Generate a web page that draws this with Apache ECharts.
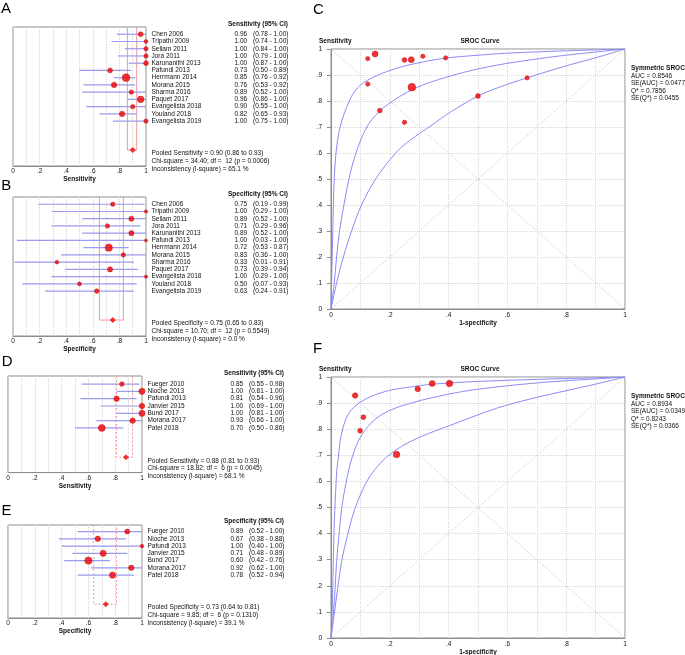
<!DOCTYPE html>
<html><head><meta charset="utf-8">
<script src="https://cdn.jsdelivr.net/npm/echarts@6/dist/echarts.min.js"></script>
<style>html,body{margin:0;padding:0;background:#fff}#c{width:685px;height:655px}</style>
</head><body><div id="c"></div>
<script>
const FONT = '"Liberation Sans", Arial, Helvetica, sans-serif';

// ---------- Panel A / B : studies ----------
const studiesAB = ['Chen 2006','Tripathi 2009','Sellam 2011','Jora 2011','Karunanithi 2013','Pafundi 2013','Herrmann 2014','Morana 2015','Sharma 2016','Paquet 2017','Evangelista 2018','Youland 2018','Evangelista 2019'];
const sensA   = [0.96,1.00,1.00,1.00,1.00,0.73,0.85,0.76,0.89,0.96,0.90,0.82,1.00];
const sensLoA = [0.78,0.74,0.84,0.79,0.87,0.50,0.76,0.53,0.52,0.86,0.55,0.65,0.75];
const sensHiA = [1.00,1.00,1.00,1.00,1.00,0.89,0.92,0.92,1.00,1.00,1.00,0.93,1.00];
const weightA = [4.5,3.5,4,4,4.5,4.5,7,5,4,6,4,5,4];
const pooledA = [0.90,0.86,0.93];
const statsA  = ['Pooled Sensitivity = 0.90 (0.86 to 0.93)','Chi-square = 34.40; df =  12 (p = 0.0006)','Inconsistency (I-square) = 65.1 %'];

const specB   = [0.75,1.00,0.89,0.71,0.89,1.00,0.72,0.83,0.33,0.73,1.00,0.50,0.63];
const specLoB = [0.19,0.29,0.52,0.29,0.52,0.03,0.53,0.36,0.01,0.39,0.29,0.07,0.24];
const specHiB = [0.99,1.00,1.00,0.96,1.00,1.00,0.87,1.00,0.91,0.94,1.00,0.93,0.91];
const weightB = [4,3,4.7,4,4.7,2.8,6.7,4,3.4,4.7,3,3.7,4.3];
const pooledB = [0.75,0.65,0.83];
const statsB  = ['Pooled Specificity = 0.75 (0.65 to 0.83)','Chi-square = 10.70; df =  12 (p = 0.5549)','Inconsistency (I-square) = 0.0 %'];

// ---------- Panel D / E ----------
const studiesDE = ['Fueger 2010','Nioche 2013','Pafundi 2013','Janvier 2015','Bund 2017','Morana 2017','Patel 2018'];
const sensD   = [0.85,1.00,0.81,1.00,1.00,0.93,0.70];
const sensLoD = [0.55,0.81,0.54,0.69,0.81,0.66,0.50];
const sensHiD = [0.98,1.00,0.96,1.00,1.00,1.00,0.86];
const weightD = [4.3,5.7,5,5,5.7,5,6.3];
const pooledD = [0.88,0.81,0.93];
const statsD  = ['Pooled Sensitivity = 0.88 (0.81 to 0.93)','Chi-square = 18.82; df =  6 (p = 0.0045)','Inconsistency (I-square) = 68.1 %'];

const specE   = [0.89,0.67,1.00,0.71,0.60,0.92,0.78];
const specLoE = [0.52,0.38,0.40,0.48,0.42,0.62,0.52];
const specHiE = [1.00,0.88,1.00,0.89,0.76,1.00,0.94];
const weightE = [4.7,5,3.4,5.7,6.7,5,5.7];
const pooledE = [0.73,0.64,0.81];
const statsE  = ['Pooled Specificity = 0.73 (0.64 to 0.81)','Chi-square = 9.85; df =  6 (p = 0.1310)','Inconsistency (I-square) = 39.1 %'];

// ---------- SROC C ----------
const srocC_fpr  = [0.125,0.15,0.25,0.273,0.3125,0.39,0.125,0.275,0.5,0.667,0.166,0.25];
const srocC_sens = [0.963,0.981,0.958,0.959,0.972,0.966,0.865,0.853,0.819,0.889,0.763,0.718];
const srocC_w    = [4,5.5,4.5,5.5,4,4,4,7,4.5,4,4.5,4];
const curveC_upper = [[0,0],[0.002,0.1],[0.004,0.2],[0.006,0.3],[0.008,0.4],[0.011,0.5],[0.017,0.6],[0.031,0.7],[0.062,0.8],[0.09,0.85],[0.125,0.88],[0.16,0.9],[0.22,0.925],[0.29,0.945],[0.39,0.965],[0.5,0.976],[0.6,0.984],[0.8,0.993],[1,1]];
const curveC_mid   = [[0,0],[0.011,0.1],[0.019,0.2],[0.029,0.3],[0.044,0.4],[0.061,0.5],[0.085,0.6],[0.122,0.7],[0.16,0.755],[0.21,0.8],[0.275,0.843],[0.338,0.872],[0.451,0.91],[0.565,0.938],[0.678,0.958],[0.79,0.975],[0.905,0.989],[1,1]];
const curveC_low   = [[0,0],[0.019,0.1],[0.042,0.2],[0.07,0.3],[0.104,0.4],[0.152,0.5],[0.22,0.6],[0.27,0.65],[0.34,0.705],[0.406,0.757],[0.5,0.819],[0.565,0.85],[0.667,0.889],[0.79,0.932],[0.905,0.968],[1,1]];
const statsC = ['AUC = 0.8546','SE(AUC) = 0.0477','Q* = 0.7856','SE(Q*) = 0.0455'];

// ---------- SROC F ----------
const srocF_fpr  = [0.082,0.11,0.099,0.223,0.295,0.344,0.403];
const srocF_sens = [0.929,0.846,0.794,0.703,0.954,0.975,0.975];
const srocF_w    = [5,4.5,4.5,6,5,5.5,6];
const curveF_upper = [[0,0],[0.004,0.1],[0.006,0.2],[0.008,0.3],[0.01,0.4],[0.014,0.517],[0.02,0.645],[0.025,0.693],[0.034,0.773],[0.05,0.837],[0.07,0.875],[0.095,0.9],[0.138,0.926],[0.2,0.949],[0.273,0.962],[0.341,0.972],[0.5,0.983],[0.7,0.991],[0.9,0.997],[1,1]];
const curveF_mid   = [[0,0],[0.008,0.092],[0.014,0.192],[0.019,0.292],[0.027,0.393],[0.036,0.494],[0.051,0.594],[0.072,0.693],[0.102,0.773],[0.149,0.837],[0.206,0.875],[0.273,0.9],[0.341,0.92],[0.451,0.945],[0.565,0.962],[0.678,0.975],[0.79,0.985],[0.905,0.993],[1,1]];
const curveF_low   = [[0,0],[0.011,0.092],[0.023,0.192],[0.036,0.292],[0.056,0.393],[0.081,0.494],[0.119,0.594],[0.149,0.645],[0.189,0.693],[0.24,0.734],[0.307,0.772],[0.406,0.815],[0.5,0.855],[0.565,0.881],[0.678,0.916],[0.79,0.945],[0.905,0.974],[1,1]];
const statsF = ['AUC = 0.8934','SE(AUC) = 0.0349','Q* = 0.8243','SE(Q*) = 0.0366'];

const diagUp = [[0,0],[1,1]];
const diagDown = [[0,1],[1,0]];

// ---------- helpers ----------
const FS = 6.5;
const TXT = '#111';
function tick(v){ if (Math.abs(v)<1e-9) return '0'; if (Math.abs(v-1)<1e-9) return '1'; return '.'+Math.round(v*10); }
function tickEven(v){ const k=Math.round(v*10); return (k%2===0) ? tick(v) : ''; }
function sizeOf(w){ return w*1.1; }

const grids=[], xAxes=[], yAxes=[], series=[];

const forests = [
  {grid:{left:13,top:27,width:133,height:139}, yMin:-1, yMax:18.2, prow:16, names:studiesAB, est:sensA, lo:sensLoA, hi:sensHiA, w:weightA, pooled:pooledA, stats:statsA, header:'Sensitivity (95% CI)', axisName:'Sensitivity', dashed:false},
  {grid:{left:13,top:197,width:133,height:139}, yMin:-1, yMax:18.2, prow:16, names:studiesAB, est:specB, lo:specLoB, hi:specHiB, w:weightB, pooled:pooledB, stats:statsB, header:'Specificity (95% CI)', axisName:'Specificity', dashed:false},
  {grid:{left:8,top:376,width:134,height:96.6}, yMin:-1.1, yMax:12.1, prow:10, names:studiesDE, est:sensD, lo:sensLoD, hi:sensHiD, w:weightD, pooled:pooledD, stats:statsD, header:'Sensitivity (95% CI)', axisName:'Sensitivity', dashed:true},
  {grid:{left:8,top:525,width:134,height:93}, yMin:-0.9, yMax:11.9, prow:10, names:studiesDE, est:specE, lo:specLoE, hi:specHiE, w:weightE, pooled:pooledE, stats:statsE, header:'Specificity (95% CI)', axisName:'Specificity', dashed:true}
];

forests.forEach((f,g)=>{
  grids.push(Object.assign({show:true, borderColor:'#8c8c8c', borderWidth:1, backgroundColor:'transparent', containLabel:false, outerBoundsMode:'none'}, f.grid));
  xAxes.push({gridIndex:g, type:'value', min:0, max:1, interval:0.1, position:'bottom',
    axisLine:{show:true, onZero:false, lineStyle:{color:'#8c8c8c', width:1}}, axisTick:{show:false},
    axisLabel:{formatter:tickEven, fontSize:FS, fontFamily:FONT, color:TXT, margin:2, showMinLabel:true, showMaxLabel:true},
    splitLine:{show:true, lineStyle:{color:'#d4d4d4', type:'dotted', width:1}},
    name:f.axisName, nameLocation:'middle', nameGap:8, nameTextStyle:{fontSize:FS, fontWeight:'bold', fontFamily:FONT, color:TXT}});
  yAxes.push({gridIndex:g, type:'value', inverse:true, min:f.yMin, max:f.yMax,
    axisLine:{show:false, onZero:false}, axisTick:{show:false}, axisLabel:{show:false}, splitLine:{show:false}});
  // pooled CI box
  series.push({type:'custom', xAxisIndex:g, yAxisIndex:g, silent:true, z:2,
    data:[[f.pooled[1], f.pooled[2], f.prow]],
    encode:{x:[0,1], y:2},
    renderItem:(p,api)=>{
      const lo=api.value(0), hi=api.value(1), r=api.value(2);
      const a=api.coord([lo,f.yMin]), b=api.coord([lo,r]), c=api.coord([hi,r]), d=api.coord([hi,f.yMin]);
      return {type:'polyline', shape:{points:[a,b,c,d]}, style:{stroke:'#f29a9a', lineWidth:1, fill:null, lineDash:f.dashed?[2,2]:null}};
    }});
  // study CI lines
  series.push({type:'custom', xAxisIndex:g, yAxisIndex:g, silent:true, z:3,
    data:f.est.map((e,i)=>[f.lo[i], f.hi[i], i]),
    encode:{x:[0,1], y:2},
    renderItem:(p,api)=>{
      const a=api.coord([api.value(0),api.value(2)]), b=api.coord([api.value(1),api.value(2)]);
      return {type:'line', shape:{x1:a[0],y1:a[1],x2:b[0],y2:b[1]}, style:{stroke:'#9a9af0', lineWidth:1.2}};
    }});
  // study points
  series.push({type:'scatter', xAxisIndex:g, yAxisIndex:g, silent:true, z:4,
    data:f.est.map((e,i)=>[e,i,f.w[i]]),
    symbol:'circle', symbolSize:(v)=>sizeOf(v[2]),
    itemStyle:{color:'#f00000', borderColor:'#c00000', borderWidth:0.5}});
  // pooled marker
  series.push({type:'scatter', xAxisIndex:g, yAxisIndex:g, silent:true, z:5,
    data:[[f.pooled[0], f.prow]], symbol:'diamond', symbolSize:[6,6],
    itemStyle:{color:'#f00000'}});
  // text columns
  series.push({type:'custom', xAxisIndex:g, yAxisIndex:g, silent:true, z:6,
    data:f.names.map((n,i)=>[1,i]),
    encode:{x:0, y:1},
    renderItem:(p,api)=>{
      const i=p.dataIndex, pt=api.coord([1,api.value(1)]);
      const st=(t,al)=>({text:t, fill:TXT, fontSize:FS, fontFamily:FONT, align:al||'left', verticalAlign:'middle'});
      const kids=[
        {type:'text', x:pt[0]+5.5, y:pt[1], style:st(f.names[i])},
        {type:'text', x:pt[0]+88.5, y:pt[1], style:st(f.est[i].toFixed(2))},
        {type:'text', x:pt[0]+107, y:pt[1], style:st('('+f.lo[i].toFixed(2)+' - '+f.hi[i].toFixed(2)+')')}
      ];
      if (i===0){
        const h=api.coord([1,-1.44]);
        kids.push({type:'text', x:h[0]+82, y:h[1], style:Object.assign(st(f.header),{fontWeight:'bold'})});
        const q=api.coord([1,f.prow]);
        f.stats.forEach((s,k)=>kids.push({type:'text', x:q[0]+5.5, y:q[1]+3.5+k*7.6, style:st(s)}));
      }
      return {type:'group', children:kids};
    }});
});

const srocs = [
  {grid:{left:331,top:49,width:294,height:260}, fpr:srocC_fpr, sens:srocC_sens, w:srocC_w, curves:[curveC_upper,curveC_mid,curveC_low]},
  {grid:{left:331,top:377,width:294,height:261}, fpr:srocF_fpr, sens:srocF_sens, w:srocF_w, curves:[curveF_upper,curveF_mid,curveF_low]}
];
srocs.forEach((s,j)=>{
  const g = 4+j;
  grids.push(Object.assign({show:true, borderColor:'#8c8c8c', borderWidth:1, backgroundColor:'transparent', containLabel:false, outerBoundsMode:'none'}, s.grid));
  xAxes.push({gridIndex:g, type:'value', min:0, max:1, interval:0.1,
    axisLine:{show:true, onZero:false, lineStyle:{color:'#8c8c8c'}}, axisTick:{show:false},
    axisLabel:{formatter:tickEven, fontSize:FS, fontFamily:FONT, color:TXT, margin:3, showMinLabel:true, showMaxLabel:true},
    splitLine:{show:true, lineStyle:{color:'#d8d8d8', type:'dotted'}},
    name:'1-specificity', nameLocation:'middle', nameGap:10, nameTextStyle:{fontSize:FS, fontWeight:'bold', fontFamily:FONT, color:TXT}});
  yAxes.push({gridIndex:g, type:'value', min:0, max:1, interval:0.1,
    axisLine:{show:true, onZero:false, lineStyle:{color:'#8c8c8c'}}, axisTick:{show:true, length:4, lineStyle:{color:'#8c8c8c'}},
    axisLabel:{formatter:tick, fontSize:FS, fontFamily:FONT, color:TXT, margin:9, showMinLabel:true, showMaxLabel:true},
    splitLine:{show:true, lineStyle:{color:'#d8d8d8', type:'dotted'}}});
  [diagUp, diagDown].forEach(d=>series.push({type:'line', xAxisIndex:g, yAxisIndex:g, silent:true, z:1, data:d, symbol:'none',
    lineStyle:{color:'#d0d0d0', width:1, type:'dotted'}}));
  s.curves.forEach(c=>series.push({type:'line', xAxisIndex:g, yAxisIndex:g, silent:true, z:3, data:c, symbol:'none', smooth:0.35,
    lineStyle:{color:'#8a8af5', width:1}}));
  series.push({type:'scatter', xAxisIndex:g, yAxisIndex:g, silent:true, z:5,
    data:s.fpr.map((x,i)=>[x, s.sens[i], s.w[i]]), symbol:'circle', symbolSize:(v)=>sizeOf(v[2]),
    itemStyle:{color:'#f00000', borderColor:'#c00000', borderWidth:0.5}});
});

function txt(t,x,y,opt){ return {type:'text', x:x, y:y, silent:true, style:Object.assign({text:t, fill:TXT, fontSize:FS, fontFamily:FONT, align:'left', verticalAlign:'middle'}, opt||{})}; }
const graphics = [
  txt('A',1,9,{fontSize:15,fill:'#000'}), txt('B',1.3,186,{fontSize:15,fill:'#000'}), txt('C',313,10,{fontSize:15,fill:'#000'}),
  txt('D',1.7,362,{fontSize:15,fill:'#000'}), txt('E',1.5,511,{fontSize:15,fill:'#000'}), txt('F',313,349,{fontSize:15,fill:'#000'}),
  txt('Sensitivity',319,41,{fontWeight:'bold'}), txt('SROC Curve',480,41,{fontWeight:'bold',align:'center'}),
  txt('Sensitivity',319,369.5,{fontWeight:'bold'}), txt('SROC Curve',480,369.5,{fontWeight:'bold',align:'center'}),
  txt('Symmetric SROC',631,68.5,{fontWeight:'bold'}),
  txt('Symmetric SROC',631,396.7,{fontWeight:'bold'})
];
statsC.forEach((s,k)=>graphics.push(txt(s,631,76+k*7.4)));
statsF.forEach((s,k)=>graphics.push(txt(s,631,404+k*7.4)));

const chart = echarts.init(document.getElementById('c'), null, {renderer:'canvas', width:685, height:655});
chart.setOption({
  animation:false, backgroundColor:'#ffffff',
  grid:grids, xAxis:xAxes, yAxis:yAxes, series:series, graphic:graphics
});
</script></body></html>
